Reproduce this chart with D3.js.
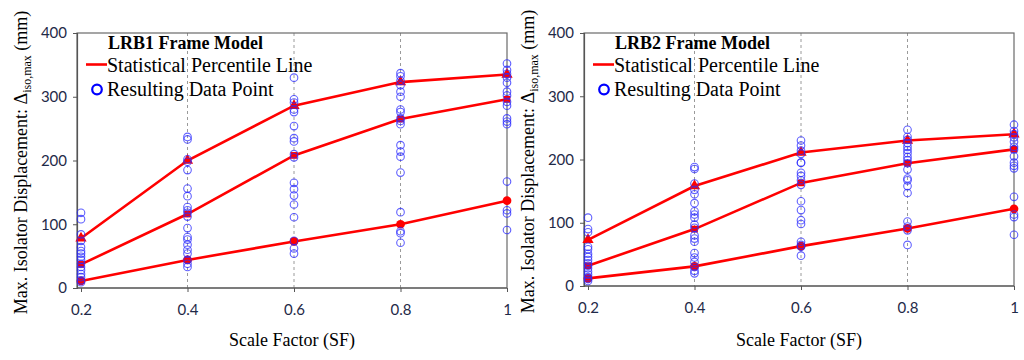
<!DOCTYPE html>
<html lang="en">
<head>
<meta charset="UTF-8">
<title>LRB frame models</title>
<script src="https://d3js.org/d3.v7.min.js"></script>
<style>
    body { margin: 0; padding: 0; background: #fff; overflow: hidden; }
    .tick-label { font-family: Lato, "Open Sans", sans-serif; font-size: 15px; fill: #1f2a48; }
</style>
</head>
<body>
<script>
    const serifFont = "Liberation Serif";

    // scale factors and axis ticks
    const scaleFactors = [0.2, 0.4, 0.6, 0.8, 1];
    const yTicks = [0, 100, 200, 300, 400];
    const xTickLabels = ["0.2", "0.4", "0.6", "0.8", "1"];

    // LRB1 - resulting data points per scale factor (mm)
    const lrb1Points = [
        [118, 108, 84, 74, 64, 58, 54, 49, 44, 38, 33, 28, 22, 17, 12, 9],
        [237, 233, 202, 198, 185, 156, 144, 127, 122, 118, 112, 94, 80, 76, 68, 60, 54, 44, 38, 33],
        [330, 296, 291, 280, 276, 254, 235, 230, 210, 205, 165, 155, 145, 131, 111, 74, 62, 54],
        [337, 332, 325, 318, 308, 300, 280, 276, 266, 262, 257, 224, 214, 206, 181, 119, 89, 86, 71],
        [352, 342, 336, 330, 322, 308, 302, 292, 286, 266, 261, 257, 167, 122, 117, 91]
    ];
    // LRB1 - statistical percentile lines
    const lrb1Upper = [78, 200, 286, 323, 335];
    const lrb1Middle = [37, 116, 208, 265, 296];
    const lrb1Lower = [11, 44, 73, 100, 137];

    // LRB2 - resulting data points per scale factor (mm)
    const lrb2Points = [
        [108, 90, 85, 62, 58, 51, 46, 41, 36, 32, 28, 23, 18, 14, 11, 8],
        [188, 185, 162, 152, 145, 131, 118, 113, 108, 97, 92, 80, 75, 70, 52, 45, 38, 30, 24, 20],
        [230, 222, 214, 209, 195, 195, 179, 174, 167, 160, 134, 120, 104, 98, 70, 65, 62, 48],
        [247, 236, 231, 226, 220, 215, 210, 204, 199, 194, 184, 170, 167, 158, 147, 102, 94, 88, 65],
        [255, 245, 240, 235, 228, 220, 216, 205, 195, 190, 186, 141, 113, 109, 81]
    ];
    // LRB2 - statistical percentile lines
    const lrb2Upper = [73, 158, 211, 230, 240];
    const lrb2Middle = [32, 90, 163, 194, 216];
    const lrb2Lower = [12, 31, 63, 91, 122];

    const width = 1024, height = 360;
    const svg = d3.select("body").append("svg")
        .attr("width", width)
        .attr("height", height);

    function serifText(g, size) {
        return g.append("text")
            .attr("font-family", serifFont)
            .attr("font-size", size)
            .attr("fill", "#000");
    }

    function drawPanel(opt) {
        const g = svg.append("g");
        const x = d3.scaleLinear().domain([0.2, 1]).range([opt.left + 4, opt.right]);
        const y = d3.scaleLinear().domain([0, 400]).range([opt.bottom, opt.top]);

        // dashed vertical gridlines
        g.selectAll(".grid")
            .data(scaleFactors.slice(1, -1))
            .enter().append("line")
            .attr("x1", d => x(d)).attr("x2", d => x(d))
            .attr("y1", opt.top).attr("y2", opt.bottom)
            .attr("stroke", "#9a9a9a")
            .attr("stroke-width", 1)
            .attr("stroke-dasharray", "3,3");

        // frame
        g.append("rect")
            .attr("x", opt.left).attr("y", opt.top)
            .attr("width", opt.right - opt.left)
            .attr("height", opt.bottom - opt.top)
            .attr("fill", "none")
            .attr("stroke", "#6a6a6a")
            .attr("stroke-width", 1.2);

        // axes
        const xAxis = d3.axisBottom(x).tickValues(scaleFactors)
            .tickFormat((d, i) => xTickLabels[i]).tickSizeOuter(0).tickSize(4).tickPadding(12);
        const gx = g.append("g").attr("transform", `translate(0,${opt.bottom})`).call(xAxis);
        const yAxis = d3.axisLeft(y).tickValues(yTicks).tickSizeOuter(0).tickSize(4).tickPadding(6);
        const gy = g.append("g").attr("transform", `translate(${opt.left},0)`).call(yAxis);
        [gx, gy].forEach(a => {
            a.select(".domain").attr("stroke", "#555").attr("stroke-width", 1.2);
            a.selectAll(".tick line").attr("stroke", "#555");
            a.selectAll(".tick text").attr("class", "tick-label").attr("font-family", null).attr("font-size", null);
        });
        gx.select(".domain").attr("d", `M${opt.left},0H${opt.right}`);

        // percentile lines
        const line = d3.line().x((d, i) => x(scaleFactors[i])).y(d => y(d));
        const series = [
            { values: opt.upper, symbol: d3.symbolTriangle, size: 55 },
            { values: opt.middle, symbol: d3.symbolSquare, size: 45 },
            { values: opt.lower, symbol: d3.symbolCircle, size: 60 }
        ];
        series.forEach(s => {
            g.append("path")
                .datum(s.values)
                .attr("d", line)
                .attr("fill", "none")
                .attr("stroke", "#ff0000")
                .attr("stroke-width", 2.6);
            g.selectAll(null)
                .data(s.values)
                .enter().append("path")
                .attr("transform", (d, i) => `translate(${x(scaleFactors[i])},${y(d)})`)
                .attr("d", d3.symbol().type(s.symbol).size(s.size))
                .attr("fill", "#ff0000");
        });

        // resulting data points
        const pts = opt.points.flatMap((col, i) => col.map(v => ({ sf: scaleFactors[i], v })));
        g.selectAll(".pt")
            .data(pts)
            .enter().append("circle")
            .attr("cx", d => x(d.sf))
            .attr("cy", d => y(d.v))
            .attr("r", 3.8)
            .attr("fill", "none")
            .attr("stroke", "#2b2bff")
            .attr("stroke-opacity", 0.75)
            .attr("stroke-width", 1.1);

        // legend
        const lx = opt.left;
        serifText(g, 18)
            .attr("x", lx + 31).attr("y", 49)
            .attr("font-weight", "bold")
            .text(opt.title);
        g.append("line")
            .attr("x1", lx + 9).attr("x2", lx + 30)
            .attr("y1", 64.5).attr("y2", 64.5)
            .attr("stroke", "#ff0000").attr("stroke-width", 2.6);
        serifText(g, 20)
            .attr("x", lx + 30).attr("y", 71.5)
            .text("Statistical Percentile Line");
        g.append("circle")
            .attr("cx", lx + 20).attr("cy", 89.5).attr("r", 4.8)
            .attr("fill", "none").attr("stroke", "#0000ff").attr("stroke-width", 2.2);
        serifText(g, 20)
            .attr("x", lx + 30).attr("y", 96)
            .text("Resulting Data Point");

        // axis titles
        const yt = serifText(g, 18)
            .attr("transform", `translate(${opt.left - 50},${(opt.top + opt.bottom) / 2 + 2}) rotate(-90)`)
            .attr("text-anchor", "middle");
        yt.append("tspan").text("Max. Isolator Displacement: \u0394");
        yt.append("tspan").attr("font-size", 12).attr("dy", 4).text("iso,max");
        yt.append("tspan").attr("dy", -4).text(" (mm)");

        serifText(g, 18)
            .attr("x", (opt.left + opt.right) / 2).attr("y", 346)
            .attr("text-anchor", "middle")
            .text("Scale Factor (SF)");
    }

    drawPanel({
        left: 77, right: 507, top: 33, bottom: 288,
        title: "LRB1 Frame Model",
        points: lrb1Points, upper: lrb1Upper, middle: lrb1Middle, lower: lrb1Lower
    });
    drawPanel({
        left: 584, right: 1014, top: 33, bottom: 286,
        title: "LRB2 Frame Model",
        points: lrb2Points, upper: lrb2Upper, middle: lrb2Middle, lower: lrb2Lower
    });
</script>
</body>
</html>
